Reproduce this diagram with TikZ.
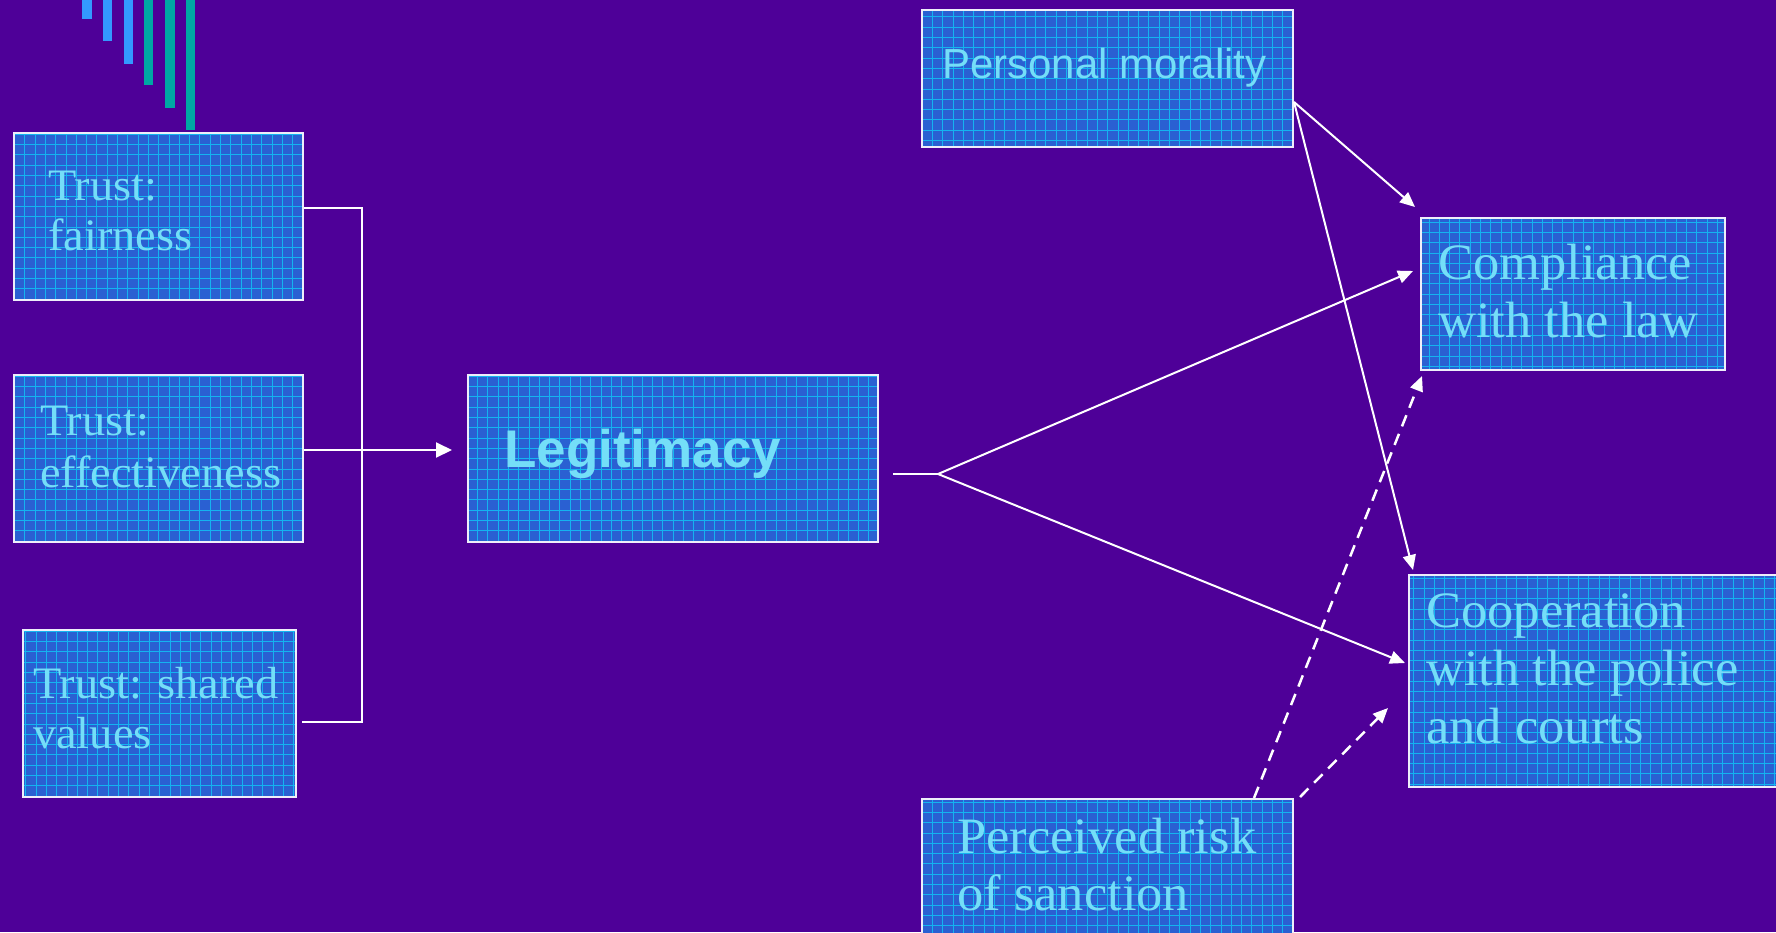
\documentclass[tikz,border=0pt]{standalone}
\usepackage{fontspec}
\setmainfont{Liberation Serif}[FakeStretch=1.03]
\setsansfont{Liberation Sans}
\usetikzlibrary{arrows.meta}
\definecolor{bg}{HTML}{4E0098}
\definecolor{boxfill}{HTML}{2A60D2}
\definecolor{gridc}{HTML}{14B4F0}
\definecolor{boxline}{HTML}{EEEEFA}
\definecolor{txtc}{HTML}{74DEF8}
\definecolor{barblue}{HTML}{3399FF}
\definecolor{barteal}{HTML}{00A8A4}
\begin{document}
\begin{tikzpicture}[x=1pt,y=-1pt,
  boxst/.style={draw=boxline, line width=2pt, fill=boxfill, inner sep=0pt, anchor=north west,
    path picture={\draw[gridc, line width=0.6pt, step=10.3pt] ([shift={(-20pt,-20pt)}]path picture bounding box.south west) grid ([shift={(20pt,20pt)}]path picture bounding box.north east);}},
  txt/.style={text=txtc, inner sep=0pt, anchor=base west},
  conn/.style={draw=white, line width=2pt},
  arr/.style={conn, -{Triangle[length=15pt,width=13pt]}},
  darr/.style={arr, dash pattern=on 12pt off 8pt, line width=2.5pt}
]
\useasboundingbox (0,0) rectangle (1776,932);
\fill[bg] (0,0) rectangle (1776,932);

% decorative bars
\fill[barblue] (82,0) rectangle (92,19);
\fill[barblue] (103,0) rectangle (112,41);
\fill[barblue] (124,0) rectangle (133,64);
\fill[barteal] (144,0) rectangle (153,85);
\fill[barteal] (165,0) rectangle (175,108);
\fill[barteal] (186,0) rectangle (195,130);

% boxes
\node[boxst, minimum width=289pt, minimum height=167pt] (fair) at (13,132) {};
\node[boxst, minimum width=289pt, minimum height=167pt] (eff) at (13,374) {};
\node[boxst, minimum width=273pt, minimum height=167pt] (shared) at (22,629) {};
\node[boxst, minimum width=410pt, minimum height=167pt] (legit) at (467,374) {};
\node[boxst, minimum width=371pt, minimum height=137pt] (moral) at (921,9) {};
\node[boxst, minimum width=304pt, minimum height=152pt] (comp) at (1420,217) {};
\node[boxst, minimum width=380pt, minimum height=212pt] (coop) at (1408,574) {};
\node[boxst, minimum width=371pt, minimum height=150pt] (perc) at (921,798) {};

% texts
\node[txt, font=\fontsize{45}{50}\selectfont] (tfair) at (48,200) {\vtop{\hbox{Trust:}\hbox{fairness}}};
\node[txt, font=\fontsize{45}{52}\selectfont] (teff) at (40,435) {\vtop{\hbox{Trust:}\hbox{effectiveness}}};
\node[txt, font=\fontsize{45}{50}\selectfont] (tshared) at (33,698) {\vtop{\hbox{Trust: shared}\hbox{values}}};
\node[txt, font=\sffamily\bfseries\fontsize{53}{60}\selectfont] (tlegit) at (504,467) {Legitimacy};
\node[txt, font=\sffamily\fontsize{42}{48}\selectfont] (tmoral) at (942,78) {Personal morality};
\node[txt, font=\fontsize{51}{58}\selectfont] (tcomp) at (1438,279) {\vtop{\hbox{Compliance}\hbox{with the law}}};
\node[txt, font=\fontsize{51}{58}\selectfont] (tcoop) at (1426,627) {\vtop{\hbox{Cooperation}\hbox{with the police}\hbox{and courts}}};
\node[txt, font=\fontsize{51}{57}\selectfont] (tperc) at (957,853) {\vtop{\hbox{Perceived risk}\hbox{of sanction}}};

% connector coordinates
\coordinate (j1) at (362,208);
\coordinate (j2) at (362,722);
\coordinate (ye) at (0,450);
\coordinate (br) at (938,474);
\coordinate (c1) at (1413,271);
\coordinate (c2) at (1405,663);
\coordinate (ym) at (0,102);
\coordinate (m1) at (1415,207);
\coordinate (m2) at (1413,570);
\coordinate (p0) at (1254,798);
\coordinate (p1) at (1422,376);
\coordinate (q0) at (1300,797);
\coordinate (q1) at (1388,708);

% connectors
\draw[conn] (fair.east |- j1) -- (j1) -- (j2) -- ([xshift=5pt]shared.east |- j2);
\draw[conn, -{Triangle[length=16pt,width=15pt]}] (eff.east |- ye) -- ([xshift=-15pt]legit.west |- ye);
\draw[conn] ([xshift=14pt]legit.east |- br) -- (br);
\draw[arr] (br) -- (c1);
\draw[arr] (br) -- (c2);
\draw[arr] (moral.east |- ym) -- (m1);
\draw[arr] (moral.east |- ym) -- (m2);
\draw[darr] (p0) -- (p1);
\draw[darr] (q0) -- (q1);
\end{tikzpicture}
\end{document}
